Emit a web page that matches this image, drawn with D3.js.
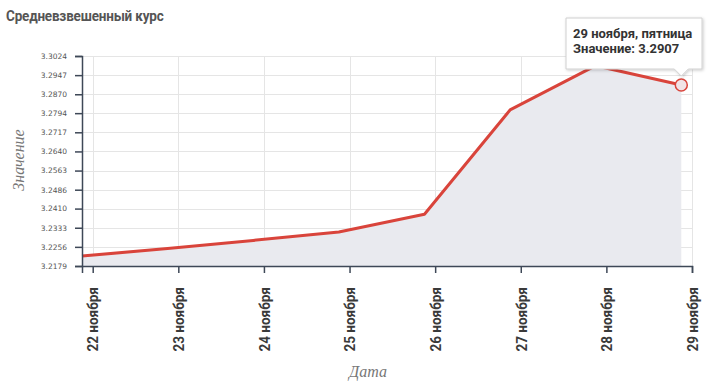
<!DOCTYPE html>
<html><head><meta charset="utf-8">
<script src="https://cdn.jsdelivr.net/npm/d3@7"></script>
<style>
body{margin:0;background:#fff;}
svg{display:block;}
</style></head>
<body>
<svg id="chart" width="711" height="387"></svg>
<script>
// ---- data ----
const dates = ["2019-11-22","2019-11-23","2019-11-24","2019-11-25","2019-11-26","2019-11-27","2019-11-28","2019-11-29"];
const values = [3.2219, 3.2249, 3.2282, 3.2316, 3.2387, 3.2807, 3.2985, 3.2907];
const xTickLabels = ["22 ноября","23 ноября","24 ноября","25 ноября","26 ноября","27 ноября","28 ноября","29 ноября"];
const yTickValues = [3.2179, 3.2256, 3.2333, 3.2410, 3.2486, 3.2563, 3.2640, 3.2717, 3.2794, 3.2870, 3.2947, 3.3024];
const title = "Средневзвешенный курс";
const xTitle = "Дата";
const yTitle = "Значение";
const tooltipLines = ["29 ноября, пятница", "Значение: 3.2907"];
const tzOffsetHours = -3; // points plotted in UTC+3 relative to day ticks

(function () {
// ---- layout ----
const svg = d3.select("#chart");
const mLeft = 82, mRight = 692, mTop = 56, mBottom = 266;
const HOUR = 3600e3;
const parse = s => new Date(s + "T00:00:00Z");
const tickDates = dates.map(parse);
const pts = dates.map((d, i) => ({t: new Date(parse(d).getTime() + tzOffsetHours * HOUR), v: values[i]}));

const x = d3.scaleUtc().domain([pts[0].t, tickDates[tickDates.length - 1]]).range([mLeft, mRight]);
const y = d3.scaleLinear().domain([yTickValues[0], yTickValues[yTickValues.length - 1]]).range([mBottom, mTop]);

// title
svg.append("text").attr("transform", "translate(6,21) scale(0.9,1)").text(title)
  .attr("font-family", "Roboto, sans-serif").attr("font-weight", "bold")
  .attr("font-size", 15).attr("fill", "#555").attr("letter-spacing", "-0.2");

// grid
const grid = svg.append("g").attr("stroke", "#e5e5e5").attr("stroke-width", 1);
grid.selectAll("line.h").data(yTickValues).join("line")
  .attr("x1", mLeft).attr("x2", mRight)
  .attr("y1", d => Math.round(y(d)) + 0.5).attr("y2", d => Math.round(y(d)) + 0.5);
grid.selectAll("line.v").data(tickDates).join("line")
  .attr("x1", d => Math.round(x(d)) + 0.5).attr("x2", d => Math.round(x(d)) + 0.5)
  .attr("y1", mTop).attr("y2", mBottom);

// area + line
const area = d3.area().x(d => x(d.t)).y0(mBottom).y1(d => y(d.v));
svg.append("path").datum(pts).attr("d", area).attr("fill", "#e9eaef");
const line = d3.line().x(d => x(d.t)).y(d => y(d.v));
svg.append("path").datum(pts).attr("d", line).attr("fill", "none")
  .attr("stroke", "#d9443b").attr("stroke-width", 3).attr("stroke-linejoin", "round");

// y axis
const yAxis = d3.axisLeft(y).tickValues(yTickValues).tickFormat(d3.format(".4f")).tickSizeOuter(0).tickSize(7).tickPadding(8);
const gy = svg.append("g").attr("transform", `translate(${mLeft},0)`).call(yAxis);
gy.select(".domain").attr("stroke", "#3e4857").attr("stroke-width", 1.5);
gy.selectAll(".tick line").attr("stroke", "#3e4857").attr("stroke-width", 1.5);
gy.selectAll(".tick text").attr("font-family", "Verdana, 'DejaVu Sans', sans-serif").attr("font-size", 7.5).attr("fill", "#555");

// x axis
const xAxis = d3.axisBottom(x).tickValues(tickDates).tickFormat((d, i) => xTickLabels[i]).tickSizeOuter(0).tickSize(7);
const gx = svg.append("g").attr("transform", `translate(0,${mBottom})`).call(xAxis);
gx.select(".domain").attr("stroke", "#3e4857").attr("stroke-width", 1.5);
gx.selectAll(".tick line").attr("stroke", "#3e4857").attr("stroke-width", 1.5);
gx.selectAll(".tick text")
  .attr("transform", "rotate(-90) scale(0.9,1)").attr("text-anchor", "end")
  .attr("x", -23.5).attr("y", 0).attr("dy", "0.35em")
  .attr("font-family", "Roboto, sans-serif").attr("font-weight", "bold")
  .attr("font-size", 15).attr("fill", "#3a3a3a");

// axis titles
svg.append("text").attr("x", 368).attr("y", 377).attr("text-anchor", "middle").text(xTitle)
  .attr("font-family", "'Liberation Serif', serif").attr("font-style", "italic")
  .attr("font-size", 16).attr("fill", "#777");
svg.append("text").attr("transform", "translate(24,160) rotate(-90)").attr("text-anchor", "middle").text(yTitle)
  .attr("font-family", "'Liberation Serif', serif").attr("font-style", "italic")
  .attr("font-size", 16).attr("fill", "#777");

// highlighted point
const last = pts[pts.length - 1];
svg.append("circle").attr("cx", x(last.t)).attr("cy", y(last.v)).attr("r", 6)
  .attr("fill", "#f1e3e6").attr("stroke", "#d9443b").attr("stroke-width", 1.5);

// tooltip
const defs = svg.append("defs");
const f = defs.append("filter").attr("id", "sh").attr("x", "-20%").attr("y", "-20%").attr("width", "140%").attr("height", "160%");
f.append("feDropShadow").attr("dx", 1).attr("dy", 1).attr("stdDeviation", 1.5).attr("flood-color", "#000").attr("flood-opacity", 0.2);
const px = x(last.t), py = y(last.v);
const bx0 = 566, bx1 = 702, by0 = 18, by1 = 69, tipY = py - 9;
svg.append("path")
  .attr("d", `M${bx0},${by0}H${bx1}V${by1}H${px + 7}L${px},${tipY}L${px - 7},${by1}H${bx0}Z`)
  .attr("fill", "#fff").attr("stroke", "#d0d0d0").attr("stroke-width", 1).attr("filter", "url(#sh)");
svg.selectAll("text.tt").data(tooltipLines).join("text").attr("class", "tt")
  .attr("x", 573).attr("y", (d, i) => 38 + i * 15).text(d => d)
  .attr("font-family", "Roboto, sans-serif").attr("font-weight", "bold")
  .attr("font-size", 13).attr("fill", "#333");
})();
</script>
</body></html>
